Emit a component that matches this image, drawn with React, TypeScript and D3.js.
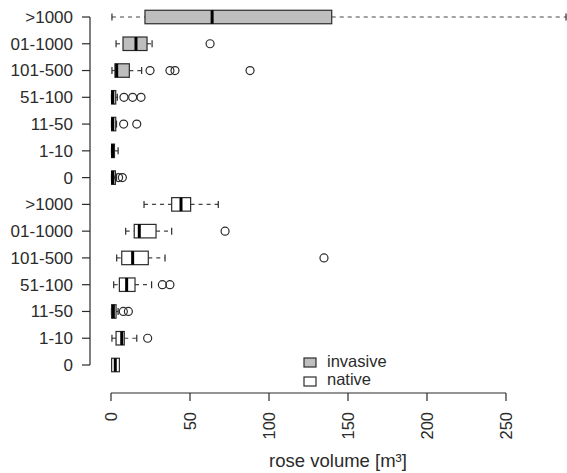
import React from "react";
import * as d3 from "d3";

// size classes, bottom to top within each group
const classes = ["0", "1-10", "11-50", "51-100", "101-500", "01-1000", ">1000"];
const xTicks = [0, 50, 100, 150, 200, 250];

// invasive roses (five-number summaries + outliers)
const invLo = [0.3, 0.3, 0.3, 0.3, 0.6, 3.2, 0.6];
const invQ1 = [0.4, 0.4, 0.4, 0.4, 2.5, 7.6, 21.5];
const invMed = [1, 1, 1, 1, 3.6, 15.8, 64];
const invQ3 = [2.8, 2.2, 3, 3, 11.6, 22.8, 139.7];
const invHi = [3.5, 4.5, 3.5, 4, 19.4, 26, 288];
const invOut = [[4.8, 7.2], [], [8, 16.3], [8.2, 13.7, 19], [24.7, 37.3, 40.5, 88], [62.7], []];

// native roses
const natLo = [0.4, 0.6, 0.3, 1.7, 3.6, 9.3, 20.9];
const natQ1 = [0.4, 3.2, 0.4, 5.3, 6.8, 14.7, 38.4];
const natMed = [2.7, 6.8, 1.5, 9.9, 13.7, 17.9, 44.3];
const natQ3 = [5.3, 8.4, 3.2, 15.2, 23.6, 28.5, 50.4];
const natHi = [5.3, 16.3, 4.5, 25.7, 34.2, 38.4, 67.9];
const natOut = [[], [23.2], [7.8, 11], [32.5, 37.3], [134.8], [72.2], []];

const W = 567;
const H = 473;
const font = "'Liberation Sans', Arial, sans-serif";
const ink = "#2b2b2b";

type Box = { pos: number; lo: number; q1: number; med: number; q3: number; hi: number; out: number[]; fill: string };

const App = () => {
  const x = d3.scaleLinear().domain([0, 250]).range([111, 506]);
  const y = d3.scaleLinear().domain([1, 14]).range([365, 17]);

  const boxes: Box[] = [];
  classes.forEach((c, i) => {
    boxes.push({ pos: i + 1, lo: natLo[i], q1: natQ1[i], med: natMed[i], q3: natQ3[i], hi: natHi[i], out: natOut[i], fill: "#fff" });
  });
  classes.forEach((c, i) => {
    boxes.push({ pos: i + 8, lo: invLo[i], q1: invQ1[i], med: invMed[i], q3: invQ3[i], hi: invHi[i], out: invOut[i], fill: "#bebebe" });
  });
  const labels = [...classes, ...classes];

  const bh = 13.5; // box height
  const cap = 3.5;
  const axisX = 90;
  const axisY = 393;
  const sw = 1.2;

  return (
    <svg width={W} height={H} style={{ position: "absolute", left: 0, top: 0, background: "#fff" }} fontFamily={font}>
      {/* boxes */}
      {boxes.map((b, i) => {
        const cy = y(b.pos);
        return (
          <g key={i}>
            <line x1={x(b.lo)} x2={x(b.q1)} y1={cy} y2={cy} stroke="#444" strokeWidth={sw} strokeDasharray="4,4" />
            <line x1={x(b.q3)} x2={x(b.hi)} y1={cy} y2={cy} stroke="#444" strokeWidth={sw} strokeDasharray="4,4" />
            <line x1={x(b.lo)} x2={x(b.lo)} y1={cy - cap} y2={cy + cap} stroke={ink} strokeWidth={sw} />
            <line x1={x(b.hi)} x2={x(b.hi)} y1={cy - cap} y2={cy + cap} stroke={ink} strokeWidth={sw} />
            <rect x={x(b.q1)} y={cy - bh / 2} width={x(b.q3) - x(b.q1)} height={bh} fill={b.fill} stroke={ink} strokeWidth={sw} />
            <line x1={x(b.med)} x2={x(b.med)} y1={cy - bh / 2} y2={cy + bh / 2} stroke="#000" strokeWidth={3} />
            {b.out.map((o, j) => (
              <circle key={j} cx={x(o)} cy={cy} r={4} fill="none" stroke={ink} strokeWidth={sw} />
            ))}
          </g>
        );
      })}

      {/* y axis */}
      <line x1={axisX} x2={axisX} y1={y(1)} y2={y(14)} stroke={ink} strokeWidth={sw} />
      {labels.map((l, i) => (
        <g key={i} transform={`translate(0,${y(i + 1)})`}>
          <line x1={axisX - 8} x2={axisX} stroke={ink} strokeWidth={sw} />
          <text x={73} dy="0.35em" textAnchor="end" fontSize={17} fill={ink}>{l}</text>
        </g>
      ))}

      {/* x axis */}
      <line x1={x(0)} x2={x(250)} y1={axisY} y2={axisY} stroke={ink} strokeWidth={sw} />
      {xTicks.map((t) => (
        <g key={t} transform={`translate(${x(t)},${axisY})`}>
          <line y1={0} y2={8} stroke={ink} strokeWidth={sw} />
          <text transform="translate(0,19) rotate(-90)" dy="0.35em" textAnchor="end" fontSize={16.5} fill={ink}>{t}</text>
        </g>
      ))}
      <text x={338} y={467} textAnchor="middle" fontSize={18.5} fill={ink}>rose volume [m³]</text>

      {/* legend */}
      <rect x={304} y={358} width={12} height={9} fill="#bebebe" stroke={ink} strokeWidth={sw} />
      <text x={327} y={367} fontSize={16.5} fill={ink}>invasive</text>
      <rect x={304} y={377} width={12} height={9} fill="#fff" stroke={ink} strokeWidth={sw} />
      <text x={327} y={385} fontSize={16.5} fill={ink}>native</text>
    </svg>
  );
};

export default App;
